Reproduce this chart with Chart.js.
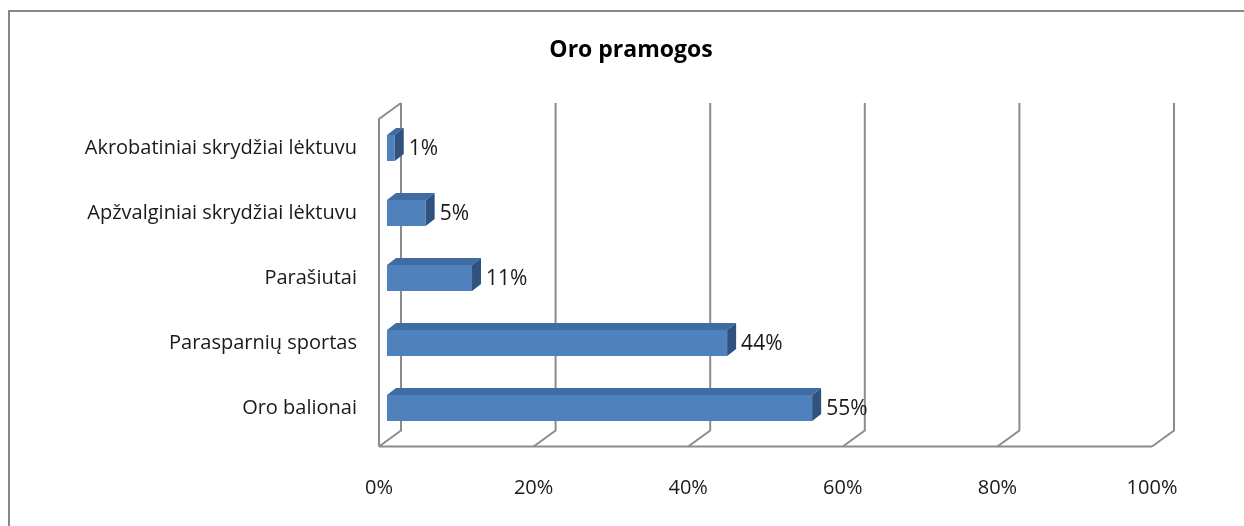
<!DOCTYPE html>
<html>
<head>
<meta charset="utf-8">
<script src="https://cdn.jsdelivr.net/npm/chart.js@4"></script>
<style>
  html, body { margin: 0; padding: 0; background: #fff; }
  #wrap { width: 1244px; height: 526px; position: relative; }
</style>
</head>
<body>
<div id="wrap"><canvas id="chart" width="1244" height="526"></canvas></div>
<script>
const categories = ['Akrobatiniai skrydžiai lėktuvu', 'Apžvalginiai skrydžiai lėktuvu', 'Parašiutai', 'Parasparnių sportas', 'Oro balionai'];
const values = [1, 5, 11, 44, 55];
const xTicks = [0, 20, 40, 60, 80, 100];
const titleText = 'Oro pramogos';

const FONT = "'Open Sans', sans-serif";
const GRID = '#8c8c8c';
// depth of the 3d box: bar plane sits between front and back
const FRONT = { x: -8, y: 6 };
const BACK = { x: 14, y: -10 };
const BAR_DEPTH = { x: 9, y: -7 };

const frame = {
  id: 'frame',
  beforeDraw(chart) {
    const ctx = chart.ctx;
    ctx.save();
    ctx.fillStyle = '#fff';
    ctx.fillRect(0, 0, chart.width, chart.height);
    ctx.strokeStyle = '#868686';
    ctx.lineWidth = 2;
    ctx.strokeRect(9, 11, chart.width + 20, chart.height + 20);
    // title, centred on the whole frame
    ctx.fillStyle = '#000';
    ctx.font = 'bold 23px ' + FONT;
    ctx.textAlign = 'center';
    ctx.textBaseline = 'middle';
    ctx.fillText(titleText, 631, 50);
    ctx.restore();
  },
  beforeDatasetsDraw(chart) {
    const { ctx, chartArea: a, scales: { x } } = chart;
    const backTop = a.top - 12.5;
    const backFloor = a.bottom + BACK.y;
    const frontFloor = a.bottom + FRONT.y;
    ctx.save();
    ctx.strokeStyle = GRID;
    ctx.lineWidth = 2;
    xTicks.forEach(v => {
      const bx = x.getPixelForValue(v) + BACK.x;
      ctx.beginPath();
      ctx.moveTo(bx, backTop);
      ctx.lineTo(bx, backFloor);
      ctx.lineTo(x.getPixelForValue(v) + FRONT.x, frontFloor);
      ctx.stroke();
    });
    // floor front edge
    ctx.beginPath();
    ctx.moveTo(x.getPixelForValue(0) + FRONT.x, frontFloor);
    ctx.lineTo(x.getPixelForValue(100) + FRONT.x, frontFloor);
    ctx.stroke();
    // side wall
    const fx = x.getPixelForValue(0) + FRONT.x;
    ctx.beginPath();
    ctx.moveTo(fx, frontFloor);
    ctx.lineTo(fx, backTop + (FRONT.y - BACK.y));
    ctx.lineTo(x.getPixelForValue(0) + BACK.x, backTop);
    ctx.stroke();
    ctx.restore();
  },
  afterDatasetsDraw(chart) {
    const ctx = chart.ctx;
    const meta = chart.getDatasetMeta(0);
    ctx.save();
    meta.data.forEach((el, i) => {
      const top = el.y - el.height / 2;
      const bot = el.y + el.height / 2;
      ctx.fillStyle = '#3f6ca3';
      ctx.beginPath();
      ctx.moveTo(el.base, top);
      ctx.lineTo(el.x, top);
      ctx.lineTo(el.x + BAR_DEPTH.x, top + BAR_DEPTH.y);
      ctx.lineTo(el.base + BAR_DEPTH.x, top + BAR_DEPTH.y);
      ctx.closePath();
      ctx.fill();
      ctx.fillStyle = '#2f527f';
      ctx.beginPath();
      ctx.moveTo(el.x, top);
      ctx.lineTo(el.x + BAR_DEPTH.x, top + BAR_DEPTH.y);
      ctx.lineTo(el.x + BAR_DEPTH.x, bot + BAR_DEPTH.y);
      ctx.lineTo(el.x, bot);
      ctx.closePath();
      ctx.fill();
      ctx.fillStyle = '#1a1a1a';
      ctx.font = '21px ' + FONT;
      ctx.textAlign = 'left';
      ctx.textBaseline = 'middle';
      ctx.fillText(values[i] + '%', el.x + BAR_DEPTH.x + 5, el.y + 1);
    });
    ctx.restore();
  }
};

new Chart(document.getElementById('chart'), {
  type: 'bar',
  data: {
    labels: categories,
    datasets: [{
      data: values,
      backgroundColor: '#4f81bd',
      borderWidth: 0,
      categoryPercentage: 0.4,
      barPercentage: 1
    }]
  },
  options: {
    indexAxis: 'y',
    responsive: false,
    animation: false,
    layout: { padding: { left: 0, right: 84, top: 115.5, bottom: 0 } },
    plugins: {
      legend: { display: false },
      tooltip: { enabled: false },
      title: { display: false }
    },
    scales: {
      x: {
        min: 0, max: 100,
        grid: { display: false, drawTicks: false },
        border: { display: false },
        afterFit: s => { s.height = 85.5; },
        ticks: {
          stepSize: 20,
          padding: 35.3,
          labelOffset: -8,
          color: '#1a1a1a',
          font: { family: FONT, size: 20 },
          callback: v => v + '%'
        }
      },
      y: {
        grid: { display: false, drawTicks: false },
        border: { display: false },
        afterFit: s => { s.width = 387; },
        ticks: {
          padding: 30,
          color: '#1a1a1a',
          font: { family: FONT, size: 20 }
        }
      }
    }
  },
  plugins: [frame]
});
</script>
</body>
</html>
